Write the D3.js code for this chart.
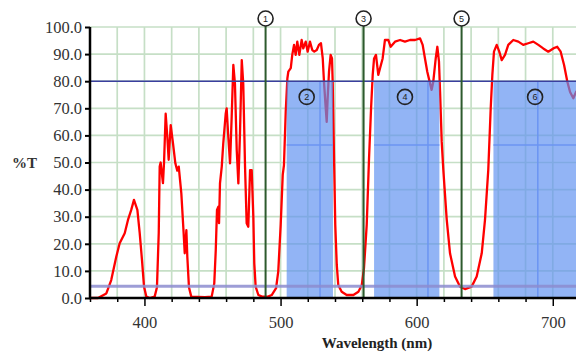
<!DOCTYPE html>
<html>
<head>
<meta charset="utf-8">
<script src="https://cdn.jsdelivr.net/npm/d3@7/dist/d3.min.js"></script>
<style>
  body { margin: 0; background: #fff; }
  svg { display: block; }
  .axis text { font-family: "Liberation Serif", serif; font-size: 16.5px; fill: #333; }
</style>
</head>
<body>
<div id="graph"></div>
<script>
// transmission spectrum (wavelength nm, %T)
var wavelengths = [360,365.9,372,375.6,379.3,381.8,385.5,387.9,390.3,392.3,394.8,396.5,398.2,399.7,401.4,403.9,407.5,409.2,410.5,411.2,
  411.9,413.6,414.4,415.6,416.8,417.8,419.3,421,422.7,424.1,425.2,427.1,428.8,429.6,430.8,431.5,432.7,434.4,444.5,
  449.4,451.3,452.4,453.3,454.3,454.8,455.5,456.8,457.9,459.7,460.4,461.6,462.9,464.1,465.3,466.5,467.8,469,470.2,471.5,
  472.6,473.9,475.1,476.3,477.6,478.8,480,480.7,481.7,483.7,486.4,490.8,
  493.5,496.7,498.3,500.1,501.6,502.5,503.8,505,505.7,507.5,508.6,509.9,511.1,512.3,513.8,515.5,516.7,518.5,519.9,521.6,
  523.3,524.8,526.6,528.2,529.7,531,531.9,533.2,533.9,534.6,535.6,536.8,537.8,538.3,539.3,540.2,541.3,542.4,544.9,548.6,
  553.5,557.2,559.7,561.3,563.3,565,566.5,567.7,568.7,570.1,571.8,573.1,575,576.7,579.2,580.9,584.1,587.8,591.4,595.1,
  598.8,602.5,604.4,606.1,607.8,609.8,611,612.2,614,615.2,616.4,617.2,618.4,619.6,622.1,624.5,628.2,631.8,635.5,640.4,
  644.1,647.8,650.2,652.6,654.4,655.6,656.8,658.8,660.7,662.5,664.9,667.3,671,674.7,678.3,682,685.7,689.4,693,696.7,
  700.4,703.3,705.8,708.3,710.7,712.7,715.1,717.1,720];
var transmission = [0,0,1.7,6.6,15.2,20.2,23.9,28.8,32.5,36.2,32.5,24,14,4.2,0.5,0,0.5,4,24,48.5,
  50,42.4,50,68,59.5,51,63.8,57,49.7,47,48.5,38.6,23.9,16.5,25,15.2,4,0.5,0.3,
  0.5,5.4,17.7,32.5,33.7,27.6,42.3,48.5,57,68,70,59.5,49.7,67,86,79,54.6,42.3,60.8,87.8,
  79,48.5,27.6,26.3,47.2,47.2,30,12.8,4.2,1.1,0.5,0.5,
  1.1,3.6,9.7,27,45.4,49,68.7,81,83.5,84.8,89.7,93.4,89.7,94.6,89.7,95.2,92.1,94.6,90.9,94.6,
  91.5,90.9,91.5,93.4,94,88.4,79.8,70,65,73.7,83.5,89.7,88.4,79.8,51.5,27,12.2,4.8,2.3,1.1,
  1.1,2.3,4.8,11,27,51.5,70,82.3,88.4,89.7,82.3,84.8,88.4,95.2,95.2,92.7,94.6,95.2,94.6,95.2,
  95.2,95.8,93.4,88.4,83.5,79.2,76.8,79.8,88.4,92.7,87.2,76,57.7,47.2,28.8,16.5,7.9,4.2,3.3,4.2,
  7.9,16.5,28.8,47.2,70,82.3,90.9,93.4,90.9,87.8,89.7,93.4,95.2,94.6,93.4,94,94.6,93.4,92.1,90.9,
  92.1,92.7,90.9,86,79.8,76,73.7,76,78];

// excitation / emission lines (numbered 1, 3, 5)
var lineWl = [489, 561, 633];
var lineLabels = ["1", "3", "5"];

// pass bands (numbered 2, 4, 6)
var bandStart = [504.5, 568.7, 656.4];
var bandEnd = [538.5, 616.7, 725];
var bandTop = 80;
var bandLabels = ["2", "4", "6"];
var bandLabelWl = [519.2, 591.4, 687];
var bandLabelT = 74.2;
var bandGridWl = [529, 608.3, 689];
var bandGridT = [56.5];

var upperLevel = 80;
var lowerLevel = 4.3;

var xTicks = d3.range(360, 721, 20);
var xLabels = [400, 500, 600, 700];
var yTicks = d3.range(0, 101, 10);

var width = 576, height = 352;
var x = d3.scaleLinear().domain([360, 720]).range([90, 580]);
var y = d3.scaleLinear().domain([0, 100]).range([298, 27]);

var svg = d3.select("#graph").append("svg")
  .attr("width", width)
  .attr("height", height);

// grid
svg.append("g").selectAll("line")
  .data(xTicks.filter(function(d) { return d > 360; }))
  .enter().append("line")
  .attr("x1", function(d) { return x(d); })
  .attr("x2", function(d) { return x(d); })
  .attr("y1", y(100)).attr("y2", y(0))
  .attr("stroke", "#c6dfc6").attr("stroke-width", 1.7);
svg.append("g").selectAll("line")
  .data(yTicks.filter(function(d) { return d > 0; }))
  .enter().append("line")
  .attr("x1", x(360)).attr("x2", x(720))
  .attr("y1", function(d) { return y(d); })
  .attr("y2", function(d) { return y(d); })
  .attr("stroke", "#c6dfc6").attr("stroke-width", 1.7);

// spectrum
var valueline = d3.line()
  .x(function(d) { return x(d[0]); })
  .y(function(d) { return y(d[1]); });
svg.append("path")
  .datum(d3.zip(wavelengths, transmission))
  .attr("d", valueline)
  .attr("fill", "none")
  .attr("stroke", "#ff0000")
  .attr("stroke-width", 2.3)
  .attr("stroke-linejoin", "round");

// pass bands
var bands = d3.range(bandStart.length).map(function(i) {
  return { a: bandStart[i], b: bandEnd[i] };
});
svg.append("g").selectAll("rect")
  .data(bands)
  .enter().append("rect")
  .attr("x", function(d) { return x(d.a); })
  .attr("width", function(d) { return x(d.b) - x(d.a); })
  .attr("y", y(bandTop))
  .attr("height", y(0) - y(bandTop))
  .attr("fill", "rgb(95,145,240)")
  .attr("fill-opacity", 0.68);

// brighter lines inside bands
var bg = svg.append("g").attr("stroke", "#6b95f2").attr("stroke-width", 1.5);
bands.forEach(function(b) {
  bandGridWl.forEach(function(w) {
    if (w > b.a && w < b.b) {
      bg.append("line")
        .attr("x1", x(w)).attr("x2", x(w))
        .attr("y1", y(bandTop)).attr("y2", y(0));
    }
  });
  bandGridT.forEach(function(t) {
    bg.append("line")
      .attr("x1", x(b.a)).attr("x2", Math.min(x(b.b), width))
      .attr("y1", y(t)).attr("y2", y(t));
  });
});

// levels
svg.append("line")
  .attr("x1", x(360)).attr("x2", x(720))
  .attr("y1", y(upperLevel)).attr("y2", y(upperLevel))
  .attr("stroke", "#3a3f9e").attr("stroke-width", 1.6);
svg.append("line")
  .attr("x1", x(360)).attr("x2", x(720))
  .attr("y1", y(lowerLevel)).attr("y2", y(lowerLevel))
  .attr("stroke", "#8c8ccf").attr("stroke-width", 3).attr("stroke-opacity", 0.85);

// numbered lines
svg.append("g").selectAll("line")
  .data(lineWl)
  .enter().append("line")
  .attr("x1", function(d) { return x(d); })
  .attr("x2", function(d) { return x(d); })
  .attr("y1", 18).attr("y2", y(0))
  .attr("stroke", "#2d5a2d").attr("stroke-width", 2);

// axes
var yAxis = svg.append("g")
  .attr("class", "axis")
  .attr("transform", "translate(" + x(360) + ",0)")
  .call(d3.axisLeft(y).tickValues(yTicks).tickFormat(d3.format(".1f")).tickSize(5).tickPadding(3));
yAxis.select(".domain").attr("stroke-width", 2.5).attr("d", "M0," + y(100) + "V" + (y(0) + 1));
yAxis.selectAll(".tick line").attr("stroke-width", 2);

var xAxis = svg.append("g")
  .attr("class", "axis")
  .attr("transform", "translate(0," + y(0) + ")")
  .call(d3.axisBottom(x).tickValues(xTicks)
    .tickFormat(function(d) { return xLabels.indexOf(d) >= 0 ? d : ""; })
    .tickSize(4).tickPadding(14));
xAxis.select(".domain").attr("stroke-width", 2.5).attr("d", "M" + (x(360) - 1) + ",0H" + x(720));
xAxis.selectAll(".tick line")
  .attr("stroke-width", 1.5)
  .attr("y2", function(d) { return xLabels.indexOf(d) >= 0 ? 8 : 4; });

// axis titles
svg.append("text")
  .attr("x", 12).attr("y", 168)
  .style("font-family", "Liberation Serif, serif")
  .style("font-weight", "bold")
  .style("font-size", "15px")
  .attr("fill", "#333")
  .text("%T");
svg.append("text")
  .attr("x", 377).attr("y", 348)
  .style("text-anchor", "middle")
  .style("font-family", "Liberation Serif, serif")
  .style("font-weight", "bold")
  .style("font-size", "15px")
  .attr("fill", "#222")
  .text("Wavelength (nm)");

// numbered markers
function marker(cx, cy, label, fill) {
  svg.append("circle")
    .attr("cx", cx).attr("cy", cy).attr("r", 7.5)
    .attr("fill", fill).attr("stroke", "#222").attr("stroke-width", 1.6);
  svg.append("text")
    .attr("x", cx).attr("y", cy + 3.5)
    .style("text-anchor", "middle")
    .style("font-family", "Liberation Sans, sans-serif")
    .style("font-size", "9px")
    .attr("fill", "#222")
    .text(label);
}
lineWl.forEach(function(w, i) { marker(x(w), 18.5, lineLabels[i], "#fff"); });
bandLabelWl.forEach(function(w, i) { marker(x(w), y(bandLabelT), bandLabels[i], "none"); });
</script>
</body>
</html>
